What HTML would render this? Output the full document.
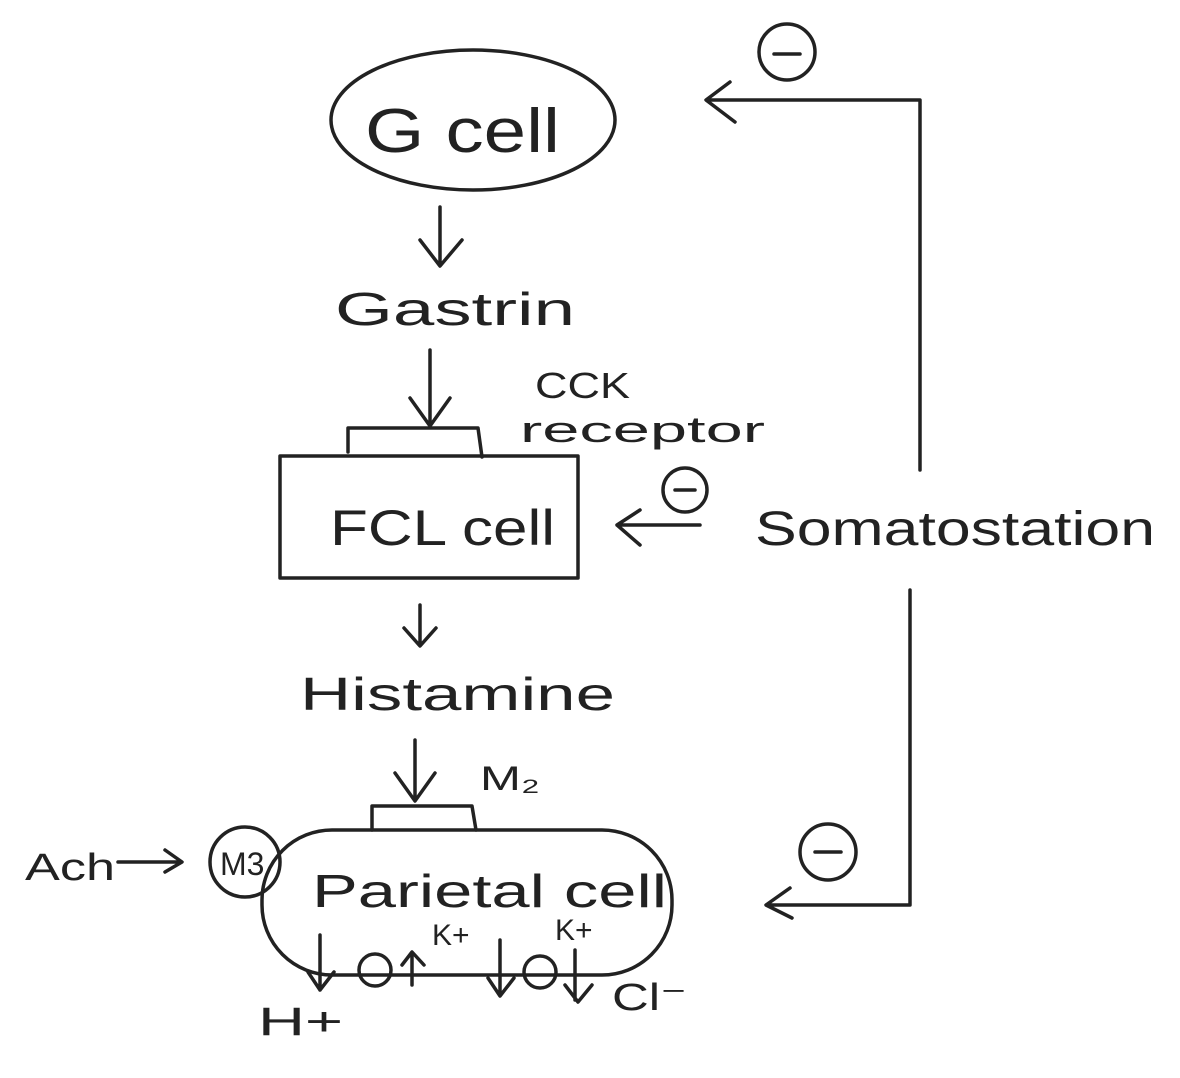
<!DOCTYPE html>
<html><head><style>
html,body{margin:0;padding:0;background:#fff;}
svg{display:block}
text{font-family:"Liberation Sans",sans-serif;fill:#222;}
</style></head><body>
<svg width="1180" height="1078" viewBox="0 0 1180 1078" xmlns="http://www.w3.org/2000/svg" stroke="#222" stroke-width="3.5" fill="none" stroke-linecap="round" stroke-linejoin="round">
<ellipse cx="473" cy="120" rx="142" ry="70"/>
<text x="365" y="152" font-size="62" stroke="none" textLength="195" lengthAdjust="spacingAndGlyphs">G cell</text>
<path d="M440 207 V265 M420 240 L440 266 L462 240"/>
<text x="335" y="325" font-size="46" stroke="none" textLength="240" lengthAdjust="spacingAndGlyphs">Gastrin</text>
<path d="M430 350 V425 M410 398 L430 426 L450 398"/>
<text x="535" y="398" font-size="36" stroke="none" textLength="95" lengthAdjust="spacingAndGlyphs">CCK</text>
<text x="520" y="442" font-size="36" stroke="none" textLength="245" lengthAdjust="spacingAndGlyphs">receptor</text>
<path d="M348 452 V428 H478 L482 457"/>
<rect x="280" y="456" width="298" height="122"/>
<text x="330" y="545" font-size="50" stroke="none" textLength="225" lengthAdjust="spacingAndGlyphs">FCL cell</text>
<path d="M700 525 H617 M640 510 L617 525 L640 545"/>
<circle cx="685" cy="490" r="22"/><path d="M675 490 H695"/>
<text x="755" y="545" font-size="48" stroke="none" textLength="400" lengthAdjust="spacingAndGlyphs">Somatostation</text>
<path d="M710 100 H920 V470 M910 590 V905 H768 M790 888 L766 905 L792 918 M730 82 L706 100 L735 122"/>
<circle cx="787" cy="52" r="28"/><path d="M774 54 H800"/>
<circle cx="828" cy="852" r="28"/><path d="M815 852 H841"/>
<path d="M420 605 V645 M404 628 L420 646 L436 628"/>
<text x="300" y="710" font-size="46" stroke="none" textLength="315" lengthAdjust="spacingAndGlyphs">Histamine</text>
<path d="M415 740 V800 M395 773 L415 801 L435 773"/>
<text x="480" y="790" font-size="34" stroke="none" textLength="60" lengthAdjust="spacingAndGlyphs">M₂</text>
<path d="M372 830 V806 H472 L476 830"/>
<rect x="262" y="830" width="410" height="145" rx="70"/>
<text x="312" y="907" font-size="46" stroke="none" textLength="355" lengthAdjust="spacingAndGlyphs">Parietal cell</text>
<text x="25" y="880" font-size="38" stroke="none" textLength="90" lengthAdjust="spacingAndGlyphs">Ach</text>
<path d="M118 862 H180 M165 850 L182 862 L165 872"/>
<circle cx="245" cy="862" r="35"/>
<text x="220" y="875" font-size="32" stroke="none">M3</text>
<text x="432" y="945" font-size="30" stroke="none">K+</text>
<text x="555" y="940" font-size="30" stroke="none">K+</text>
<path d="M320 935 V990 M308 972 L320 990 L334 972"/>
<circle cx="375" cy="970" r="16"/>
<path d="M412 985 V955 M402 965 L412 952 L424 965"/>
<path d="M500 940 V995 M488 978 L500 996 L514 978"/>
<circle cx="540" cy="972" r="16"/>
<path d="M575 950 V1000 M565 985 L578 1002 L592 985"/>
<text x="258" y="1035" font-size="40" stroke="none" textLength="85" lengthAdjust="spacingAndGlyphs">H+</text>
<text x="612" y="1010" font-size="38" stroke="none" textLength="75" lengthAdjust="spacingAndGlyphs">Cl⁻</text>
</svg>
</body></html>
